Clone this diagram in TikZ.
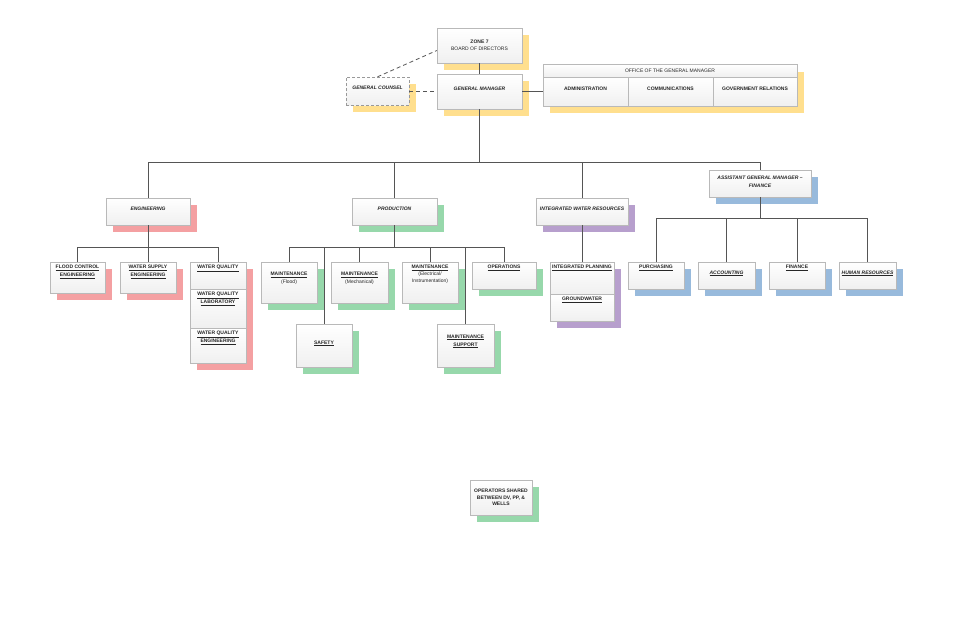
\documentclass[tikz,border=0pt]{standalone}
\usepackage{fontspec}
\setmainfont{Liberation Sans}
\usetikzlibrary{shadows}
\definecolor{cy}{HTML}{FFDF8E}
\definecolor{cr}{HTML}{F4A0A2}
\definecolor{cg}{HTML}{97D8AB}
\definecolor{cp}{HTML}{B79FCD}
\definecolor{cb}{HTML}{98BADC}
\definecolor{ln}{HTML}{555555}
\tikzset{
  box/.style={draw=gray!55, top color=white, bottom color=gray!12, inner sep=1pt, align=center, font=\fontsize{5}{7.5}\selectfont\bfseries, text=black!85},
  sh/.style={copy shadow={shadow xshift=7pt, shadow yshift=-7pt, fill=#1, draw=none}},
  txt/.style={inner sep=3pt, align=center, font=\fontsize{5}{8}\selectfont\bfseries, text=black!85},
  conn/.style={draw=ln, line width=0.8pt},
  dconn/.style={draw=ln, line width=0.8pt, dash pattern=on 4pt off 3pt}
}
\newcommand{\bx}[7]{\node[box, sh=#6, minimum width=#4pt, minimum height=#5pt] (#1) at (#2,#3) {};}
\newcommand{\ul}[1]{\underline{#1}}
\begin{document}
\begin{tikzpicture}[x=1pt,y=-1pt]
\useasboundingbox (0,0) rectangle (960,621);
% top
\bx{zone}{479.5}{45.5}{85}{35}{cy}{}
\node[txt] at (zone) {ZONE 7\\[-1pt]\mdseries BOARD OF DIRECTORS};
\bx{gm}{479.5}{91.5}{85}{35}{cy}{}
\node[txt] at (gm) [yshift=3pt] {\itshape GENERAL MANAGER};
\node[box, sh=cy, draw=gray!80, densely dashed, minimum width=63pt, minimum height=28pt] (gc) at (377.5,91) {};
\node[txt] at (gc) [yshift=3pt] {\itshape GENERAL COUNSEL};
% office
\fill[cy] (550,72) rectangle (804,113);
\node[box, minimum width=254pt, minimum height=13pt] (ofh) at (670,70.5) {\mdseries OFFICE OF THE GENERAL MANAGER};
\node[box, minimum width=85pt, minimum height=29pt] (adm) at (585.5,91.5) {};
\node[box, minimum width=85pt, minimum height=29pt] (com) at (670.5,91.5) {};
\node[box, minimum width=84pt, minimum height=29pt] (gov) at (755,91.5) {};
\node[txt] at (adm.center) [yshift=3pt] {ADMINISTRATION};
\node[txt] at (com.center) [yshift=3pt] {COMMUNICATIONS};
\node[txt] at (gov.center) [yshift=3pt] {GOVERNMENT RELATIONS};
% second level
\bx{eng}{148}{211.5}{84}{27}{cr}{}
\node[txt] at (eng) [yshift=3pt] {\itshape ENGINEERING};
\bx{prod}{394.5}{211.5}{85}{27}{cg}{}
\node[txt] at (prod) [yshift=3pt] {\itshape PRODUCTION};
\bx{iwr}{582}{211.5}{92}{27}{cp}{}
\node[txt] at (iwr) [yshift=3pt] {\itshape INTEGRATED WATER RESOURCES};
\bx{agm}{760}{183.5}{102}{27}{cb}{}
\node[txt] at (agm) [yshift=2pt] {\itshape ASSISTANT GENERAL MANAGER --\\\itshape FINANCE};
% engineering children
\bx{fce}{77.5}{277.5}{55}{31}{cr}{}
\node[txt, below] at (fce.north) {\ul{FLOOD CONTROL}\\\ul{ENGINEERING}};
\bx{wse}{148}{277.5}{56}{31}{cr}{}
\node[txt, below] at (wse.north) {\ul{WATER SUPPLY}\\\ul{ENGINEERING}};
\fill[cr] (197,269) rectangle (253,370);
\node[box, minimum width=56pt, minimum height=27pt] (wq) at (218,275.5) {};
\node[box, minimum width=56pt, minimum height=39pt] (wql) at (218,308.5) {};
\node[box, minimum width=56pt, minimum height=35pt] (wqe) at (218,345.5) {};
\node[txt, below] at (wq.north) {\ul{WATER QUALITY}};
\node[txt, below] at (wql.north) {\ul{WATER QUALITY}\\\ul{LABORATORY}};
\node[txt, below] at (wqe.north) {\ul{WATER QUALITY}\\\ul{ENGINEERING}};
% production children
\bx{mfl}{289}{282.5}{56}{41}{cg}{}
\node[txt] at (mfl) [yshift=4pt] {\ul{MAINTENANCE}\\\mdseries (Flood)};
\bx{mme}{359.5}{282.5}{57}{41}{cg}{}
\node[txt] at (mme) [yshift=4pt] {\ul{MAINTENANCE}\\\mdseries (Mechanical)};
\bx{mel}{430}{282.5}{56}{41}{cg}{}
\node[txt, below, font=\fontsize{5}{7}\selectfont\bfseries] at (mel.north) {\ul{MAINTENANCE}\\\mdseries (Electrical/\\\mdseries Instrumentation)};
\bx{ops}{504}{275.5}{64}{27}{cg}{}
\node[txt, below] at (ops.north) {\ul{OPERATIONS}};
\bx{saf}{324}{345.5}{56}{43}{cg}{}
\node[txt] at (saf) [yshift=2pt] {\ul{SAFETY}};
\bx{msu}{465.5}{345.5}{57}{43}{cg}{}
\node[txt] at (msu) [yshift=4pt] {\ul{MAINTENANCE}\\\ul{SUPPORT}};
% IWR children
\fill[cp] (557,269) rectangle (621,328);
\node[box, minimum width=64pt, minimum height=32pt] (ip) at (582,278) {};
\node[box, minimum width=64pt, minimum height=27pt] (gw) at (582,307.5) {};
\node[txt, below] at (ip.north) {\ul{INTEGRATED PLANNING}};
\node[txt, below] at (gw.north) {\ul{GROUNDWATER}};
% finance children
\bx{pur}{656}{275.5}{56}{27}{cb}{}
\node[txt, below] at (pur.north) {\ul{PURCHASING}};
\bx{acc}{726.5}{275.5}{57}{27}{cb}{}
\node[txt] at (acc) [yshift=2pt] {\itshape\ul{ACCOUNTING}};
\bx{fin}{797}{275.5}{56}{27}{cb}{}
\node[txt, below] at (fin.north) {\ul{FINANCE}};
\bx{hr}{867.5}{275.5}{57}{27}{cb}{}
\node[txt] at (hr) [yshift=2pt] {\itshape\ul{HUMAN RESOURCES}};
% operators
\bx{opsh}{501}{497.5}{62}{35}{cg}{}
\node[txt, font=\fontsize{5}{6.5}\selectfont\bfseries] at (opsh) {OPERATORS SHARED\\BETWEEN DV, PP, \&\\WELLS};
% connectors
\coordinate (b1) at (0,162);
\coordinate (b2) at (0,247);
\coordinate (b3) at (0,218);
\draw[conn] (zone.south) -- (gm.north);
\draw[conn] (gm.east) -- (adm.west|-gm.east);
\draw[dconn] (gc.east) -- (gm.west|-gc.east);
\draw[dconn] (gc.north) -- ([yshift=-5pt]zone.west);
\draw[conn] (gm.south) -- (gm.south|-b1);
\draw[conn] (eng.north) -- (eng.north|-b1) -- (agm.north|-b1) -- (agm.north);
\draw[conn] (prod.north) -- (prod.north|-b1);
\draw[conn] (iwr.north) -- (iwr.north|-b1);
\draw[conn] (eng.south) -- (eng.south|-b2);
\draw[conn] (fce.north) -- (fce.north|-b2) -- (wq.north|-b2) -- (wq.north);
\draw[conn] (wse.north) -- (wse.north|-b2);
\draw[conn] (prod.south) -- (prod.south|-b2);
\draw[conn] (mfl.north) -- (mfl.north|-b2) -- (ops.north|-b2) -- (ops.north);
\draw[conn] (mme.north) -- (mme.north|-b2);
\draw[conn] (mel.north) -- (mel.north|-b2);
\draw[conn] (saf.north) -- (saf.north|-b2);
\draw[conn] (msu.north) -- (msu.north|-b2);
\draw[conn] (iwr.south) -- (ip.north);
\draw[conn] (agm.south) -- (agm.south|-b3);
\draw[conn] (pur.north) -- (pur.north|-b3) -- (hr.north|-b3) -- (hr.north);
\draw[conn] (acc.north) -- (acc.north|-b3);
\draw[conn] (fin.north) -- (fin.north|-b3);
\end{tikzpicture}
\end{document}
